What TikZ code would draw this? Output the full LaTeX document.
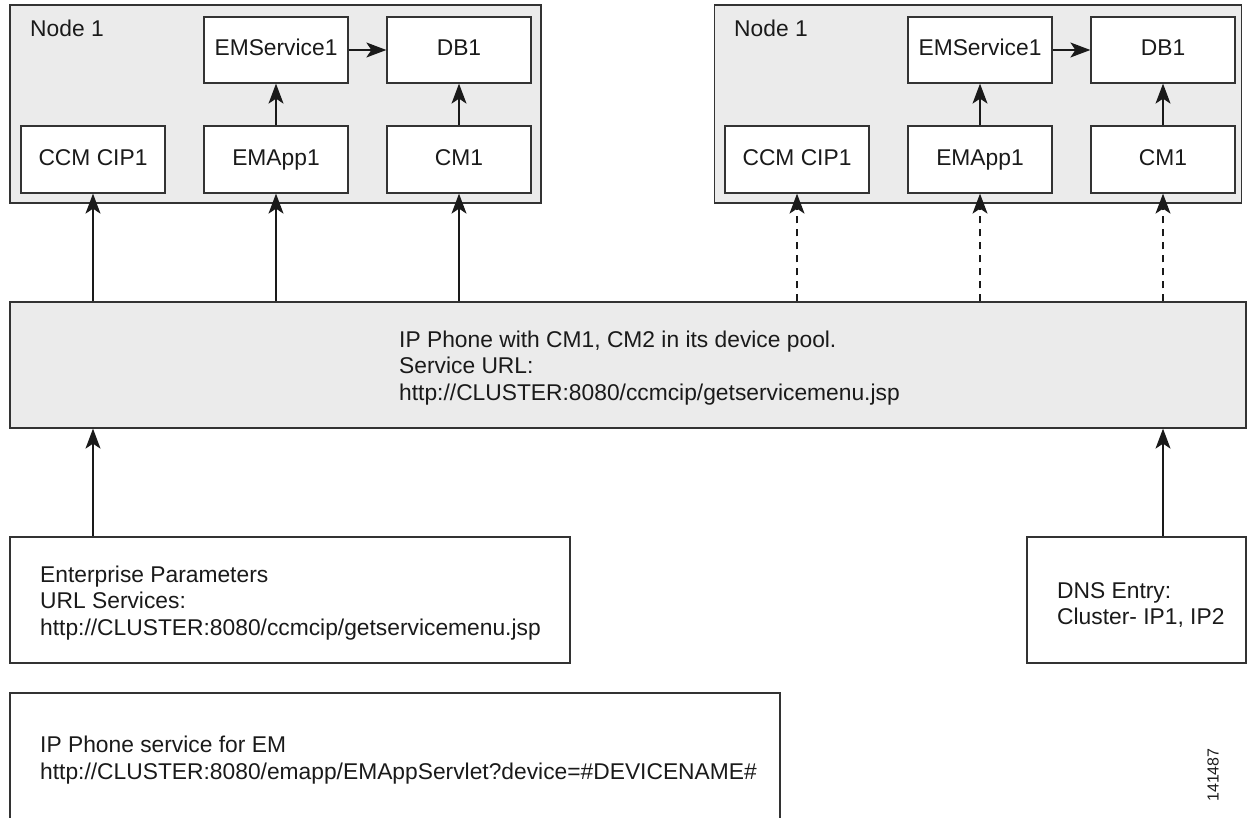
\documentclass[tikz,border=0pt]{standalone}
\usepackage{fontspec}
\setmainfont{Liberation Sans}
\usetikzlibrary{arrows.meta}
\definecolor{panel}{HTML}{EBEBEB}
\definecolor{edge}{HTML}{333333}
\definecolor{ink}{HTML}{1A1A1A}
\begin{document}
\begin{tikzpicture}[x=1pt,y=-1pt,
  every node/.style={font=\fontsize{22.8}{26.5}\selectfont, text=ink},
  panelbox/.style={draw=edge, line width=1.3pt, fill=panel, inner sep=0pt},
  whitebox/.style={draw=edge, line width=1.3pt, fill=white, inner sep=0pt},
  compbox/.style={whitebox, minimum width=144pt, minimum height=67pt, text height=16.5pt, text depth=4.5pt},
  txt/.style={align=left, inner sep=0pt, anchor=west},
  conn/.style={draw=ink, line width=1.2pt, -{Stealth[length=20pt,width=15pt,inset=5pt]}},
  dconn/.style={conn, dash pattern=on 7pt off 6pt}
]
\useasboundingbox (0,0) rectangle (1249,818);

% left node group
\node[panelbox, minimum width=531pt, minimum height=198pt] (grpL) at (275.5,104) {};
\node[txt] (lblL) at (30,28) {Node 1};
\node[compbox] (ccmL) at (93,159.5) {CCM CIP1};
\node[compbox] (appL) at (276,159.5) {EMApp1};
\node[compbox] (cmL)  at (459,159.5) {CM1};
\node[compbox, minimum height=66pt] (svcL) at (276,50) {EMService1};
\node[compbox, minimum height=66pt] (dbL)  at (459,50) {DB1};

% right node group
\node[panelbox, minimum width=527pt, minimum height=198pt] (grpR) at (978,104) {};
\node[txt] (lblR) at (734,28) {Node 1};
\node[compbox] (ccmR) at (797,159.5) {CCM CIP1};
\node[compbox] (appR) at (980,159.5) {EMApp1};
\node[compbox] (cmR)  at (1163,159.5) {CM1};
\node[compbox, minimum height=66pt] (svcR) at (980,50) {EMService1};
\node[compbox, minimum height=66pt] (dbR)  at (1163,50) {DB1};

% middle phone box
\node[panelbox, minimum width=1236pt, minimum height=126pt] (mid) at (628,365) {};
\node[txt] (midtxt) at (399,368) {IP Phone with CM1, CM2 in its device pool.\\Service URL:\\http://CLUSTER:8080/ccmcip/getservicemenu.jsp};

% bottom boxes
\node[whitebox, minimum width=560pt, minimum height=126pt] (ent) at (290,600) {};
\node[txt] (enttxt) at (40,603) {Enterprise Parameters\\URL Services:\\http://CLUSTER:8080/ccmcip/getservicemenu.jsp};
\node[whitebox, minimum width=219pt, minimum height=126pt] (dns) at (1136.5,600) {};
\node[txt] (dnstxt) at (1057,605) {DNS Entry:\\Cluster- IP1, IP2};

\coordinate (svcA) at (10,830);
\coordinate (svcB) at (780,830);
\draw[draw=edge, line width=1.3pt] (svcA) -- (10,693) -- (780,693) -- (svcB);
\node[txt] (svctxt) at (40,760) {IP Phone service for EM\\http://CLUSTER:8080/emapp/EMAppServlet?device=\#DEVICENAME\#};

\node[rotate=90, font=\fontsize{16}{18}\selectfont, inner sep=0pt] (fig) at (1213,775) {141487};

% connectors inside groups
\draw[conn] (appL) -- (svcL);
\draw[conn] (cmL) -- (dbL);
\draw[conn] (svcL) -- (dbL);
\draw[conn] (appR) -- (svcR);
\draw[conn] (cmR) -- (dbR);
\draw[conn] (svcR) -- (dbR);

% from phone box to components
\draw[conn] (ccmL.south |- mid.north) -- (ccmL.south);
\draw[conn] (appL.south |- mid.north) -- (appL.south);
\draw[conn] (cmL.south |- mid.north) -- (cmL.south);
\draw[dconn] (ccmR.south |- mid.north) -- (ccmR.south);
\draw[dconn] (appR.south |- mid.north) -- (appR.south);
\draw[dconn] (cmR.south |- mid.north) -- (cmR.south);

% from bottom boxes to phone box
\draw[conn] (ccmL.south |- ent.north) -- (ccmL.south |- mid.south);
\draw[conn] (cmR.south |- dns.north) -- (cmR.south |- mid.south);
\end{tikzpicture}
\end{document}
